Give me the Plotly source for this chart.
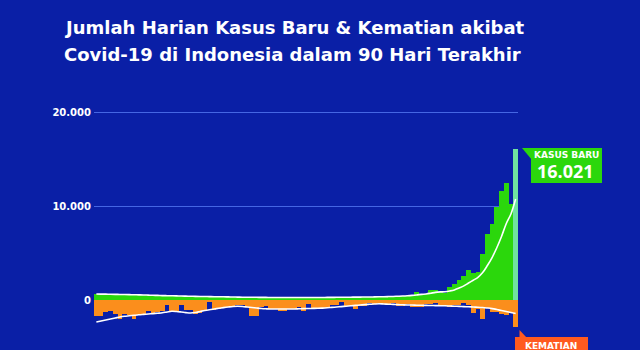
import plotly.graph_objects as go

# ---- data ----
days = list(range(90))

kasus_baru = [
    650, 620, 600, 560, 620, 580, 560, 540, 600, 520,
    500, 520, 480, 450, 470, 430, 460, 420, 400, 430,
    400, 380, 410, 370, 350, 380, 360, 340, 330, 360,
    320, 300, 330, 290, 280, 300, 270, 260, 290, 280,
    250, 270, 260, 280, 250, 270, 290, 260, 280, 300,
    290, 310, 280, 300, 320, 290, 310, 330, 300, 340,
    330, 350, 360, 340, 380, 400, 420, 450, 802, 646,
    692, 1053, 1054, 855, 772, 1362, 1745, 2116, 2604, 3205,
    2925, 2927, 4878, 7010, 8077, 9905, 11588, 12422, 10185, 16021,
]

kasus_rata7 = [
    640, 630, 620, 610, 600, 590, 580, 570, 560, 550,
    540, 520, 500, 490, 470, 460, 450, 440, 420, 410,
    400, 390, 380, 370, 360, 350, 345, 340, 330, 320,
    310, 300, 295, 290, 285, 280, 275, 270, 268, 265,
    262, 260, 260, 262, 264, 266, 268, 270, 272, 275,
    280, 285, 290, 295, 300, 305, 310, 315, 320, 330,
    340, 350, 365, 380, 400, 420, 450, 490, 540, 600,
    640, 720, 810, 860, 880, 960, 1076, 1280, 1501, 1808,
    2104, 2412, 2914, 3666, 4518, 5561, 6759, 8115, 9152, 10744,
]

kematian = [
    16, 16, 12, 11, 14, 19, 14, 15, 19, 15,
    15, 11, 14, 12, 11, 5, 12, 11, 5, 10,
    10, 14, 13, 11, 2, 10, 9, 8, 7, 7,
    5, 5, 7, 16, 16, 7, 6, 9, 9, 11,
    11, 9, 9, 7, 11, 4, 9, 9, 8, 8,
    5, 5, 2, 6, 6, 9, 6, 6, 3, 4,
    3, 4, 5, 3, 6, 6, 4, 7, 7, 7,
    4, 4, 3, 6, 6, 7, 5, 5, 3, 5,
    13, 9, 19, 8, 12, 12, 14, 15, 13, 27,
]

kematian_rata7 = [
    22, 21, 20, 19, 18, 17, 16.3, 15.8, 15.3, 14.8,
    14.4, 14, 13.6, 13.2, 12.8, 12, 11.3, 11.5, 12, 12.6,
    13, 12.5, 11.5, 10.5, 9.7, 9, 8.3, 7.6, 7, 6.5,
    6.3, 6.5, 7, 7.5, 8, 8.5, 8.8, 9, 9, 9,
    9, 9, 9, 8.8, 8.6, 8.5, 8.4, 8.3, 8.1, 7.8,
    7.4, 7, 6.6, 6.2, 5.8, 5.4, 5, 4.6, 4.3, 4,
    3.8, 4, 4.2, 4.4, 4.6, 4.8, 5, 5, 5.2, 5.3,
    5.4, 5.5, 5.6, 5.7, 5.8, 6, 6.2, 6.4, 6.6, 6.8,
    7, 7.2, 7.5, 8, 8.6, 9.5, 10.5, 11.5, 12.5, 13.5,
]

tick_vals = [0, 10000, 20000]
tick_text = ["0", "10.000", "20.000"]

judul_baris1 = "Jumlah Harian Kasus Baru & Kematian akibat"
judul_baris2 = "Covid-19 di Indonesia dalam 90 Hari Terakhir"
label_kasus = "KASUS BARU"
nilai_kasus = "16.021"
label_kematian = "KEMATIAN"

# ---- style ----
BG = "#0a1fa6"
GREEN = "#2bd70c"
GREEN_LAST = "#6fe3a0"
ORANGE = "#fb8e1c"
RED_ORANGE = "#ff5a1f"
GRID = "#4566e3"
FONT = "DejaVu Sans"

colors = [GREEN] * (len(days) - 1) + [GREEN_LAST]

fig = go.Figure()
fig.add_trace(go.Bar(x=days, y=kasus_baru, marker=dict(color=colors, line=dict(width=0)),
                     yaxis="y", hoverinfo="skip"))
fig.add_trace(go.Bar(x=days, y=[-v for v in kematian], marker=dict(color=ORANGE, line=dict(width=0)),
                     yaxis="y2", hoverinfo="skip"))
fig.add_trace(go.Scatter(x=days, y=kasus_rata7, mode="lines", line=dict(color="white", width=1.6, shape="spline"),
                         yaxis="y", hoverinfo="skip"))
fig.add_trace(go.Scatter(x=days, y=[-v for v in kematian_rata7], mode="lines",
                         line=dict(color="white", width=1.6, shape="spline"),
                         yaxis="y2", hoverinfo="skip"))

L, R, T, B = 94, 518, 100, 350
W = R - L
H = B - T

def px_x(p):
    return (p - L) / W

def px_y(p):
    return (B - p) / H

shapes = [
    # KASUS BARU callout
    dict(type="rect", xref="paper", yref="paper", x0=px_x(531), x1=px_x(602), y0=px_y(183), y1=px_y(148),
         fillcolor=GREEN, line=dict(width=0), layer="above"),
    dict(type="path", xref="paper", yref="paper",
         path=f"M {px_x(522)} {px_y(148)} L {px_x(532)} {px_y(148)} L {px_x(532)} {px_y(160)} Z",
         fillcolor=GREEN, line=dict(width=0), layer="above"),
    # KEMATIAN callout
    dict(type="rect", xref="paper", yref="paper", x0=px_x(515), x1=px_x(588), y0=px_y(362), y1=px_y(337),
         fillcolor=RED_ORANGE, line=dict(width=0), layer="above"),
    dict(type="path", xref="paper", yref="paper",
         path=f"M {px_x(519.5)} {px_y(330)} L {px_x(519.5)} {px_y(338)} L {px_x(527)} {px_y(338)} Z",
         fillcolor=RED_ORANGE, line=dict(width=0), layer="above"),
]

annotations = [
    dict(text=f"<b>{judul_baris1}</b>", xref="paper", yref="paper", x=px_x(62), y=px_y(27.5),
         showarrow=False, align="left", xanchor="left", yanchor="middle",
         font=dict(family=FONT, size=18, color="white")),
    dict(text=f"<b>{judul_baris2}</b>", xref="paper", yref="paper", x=px_x(62), y=px_y(54.5),
         showarrow=False, align="left", xanchor="left", yanchor="middle",
         font=dict(family=FONT, size=18, color="white")),
    dict(text=f"<b>{label_kasus}</b>", xref="paper", yref="paper", x=px_x(566.5), y=px_y(155),
         showarrow=False, font=dict(family=FONT, size=9, color="white"), xanchor="center", yanchor="middle"),
    dict(text=f"<b>{nilai_kasus}</b>", xref="paper", yref="paper", x=px_x(565.5), y=px_y(171),
         showarrow=False, font=dict(family="Open Sans", size=18, color="white"), xanchor="center", yanchor="middle"),
    dict(text=f"<b>{label_kematian}</b>", xref="paper", yref="paper", x=px_x(551), y=px_y(346),
         showarrow=False, font=dict(family=FONT, size=9, color="white"), xanchor="center", yanchor="middle"),
]

fig.update_layout(
    width=640, height=350,
    margin=dict(l=L, r=640 - R, t=T, b=350 - B),
    paper_bgcolor=BG, plot_bgcolor=BG,
    showlegend=False,
    barmode="overlay", bargap=0,
    xaxis=dict(range=[-0.5, len(days) - 0.5], visible=False, fixedrange=True),
    yaxis=dict(range=[-5319, 21277], tickvals=tick_vals, ticktext=tick_text,
               showgrid=True, gridcolor=GRID, gridwidth=1, zeroline=False, showline=False,
               ticks="", ticklabelstandoff=2,
               tickfont=dict(family=FONT, size=10, color="white", weight="bold")),
    yaxis2=dict(range=[-50, 200], overlaying="y", visible=False, showgrid=False, zeroline=False),
    shapes=shapes,
    annotations=annotations,
)

fig.write_html("out.html")
